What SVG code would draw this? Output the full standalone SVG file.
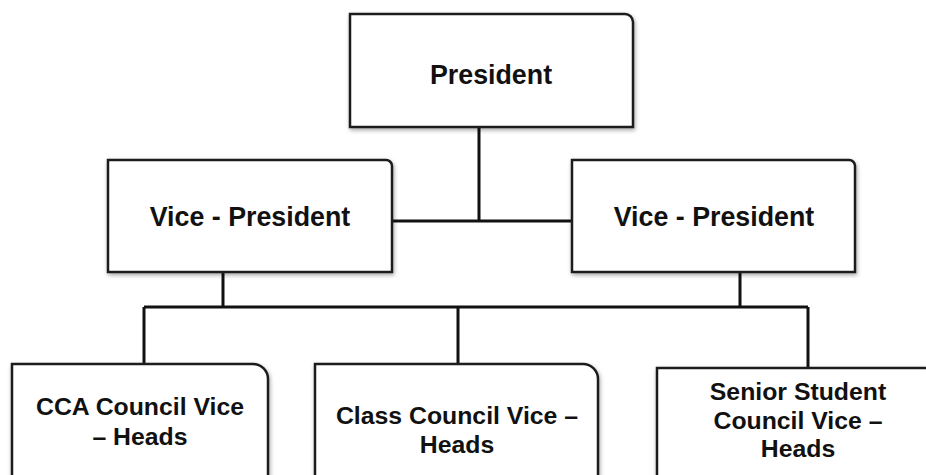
<svg xmlns="http://www.w3.org/2000/svg" width="926" height="475" viewBox="0 0 926 475">
<defs>
<filter id="sh" x="-10%" y="-10%" width="120%" height="130%">
<feGaussianBlur in="SourceAlpha" stdDeviation="2"/>
<feOffset dx="1" dy="2" result="b"/>
<feComponentTransfer><feFuncA type="linear" slope="0.35"/></feComponentTransfer>
<feMerge><feMergeNode/><feMergeNode in="SourceGraphic"/></feMerge>
</filter>
</defs>
<style>
.box{fill:#fff;stroke:#1e1e1e;stroke-width:2.5;filter:url(#sh)}
.t{font-family:"Liberation Sans",Arial,sans-serif;font-weight:bold;fill:#111;text-anchor:middle}
.big{font-size:26.8px}
.sm{font-size:24.8px}
.c{fill:none;stroke:#111;stroke-width:3}
</style>
<rect width="926" height="475" fill="#fff"/>
<g id="connectors">
<path class="c" d="M479,127 V221 M392,221 H572"/>
<path class="c" d="M223,272 V307 M740,272 V307 M144,307 H808 M144,307 V364 M458,307 V364 M808,307 V368"/>
</g>
<g id="president">
<path class="box" d="M350,14 H625 A8,8 0 0 1 633,22 V127 H350 Z"/>
<text class="t big" x="491" y="84">President</text>
</g>
<g id="vp-left">
<path class="box" d="M108,160 H386 A6,6 0 0 1 392,166 V272 H108 Z"/>
<text class="t big" x="250" y="226">Vice - President</text>
</g>
<g id="vp-right">
<path class="box" d="M572,160 H849 A6,6 0 0 1 855,166 V272 H572 Z"/>
<text class="t big" x="714" y="226">Vice - President</text>
</g>
<g id="cca">
<path class="box" d="M12,364 H253 A15,15 0 0 1 268,379 V485 H12 Z"/>
<text class="t sm" x="140" y="415">CCA Council Vice</text>
<text class="t sm" x="140" y="445">– Heads</text>
</g>
<g id="class">
<path class="box" d="M315,364 H583 A15,15 0 0 1 598,379 V485 H315 Z"/>
<text class="t sm" x="457" y="424">Class Council Vice –</text>
<text class="t sm" x="457" y="453">Heads</text>
</g>
<g id="senior">
<path class="box" d="M657,368 H925 A15,15 0 0 1 940,383 V485 H657 Z"/>
<text class="t sm" x="798" y="400">Senior Student</text>
<text class="t sm" x="798" y="429">Council Vice –</text>
<text class="t sm" x="798" y="457">Heads</text>
</g>
</svg>
